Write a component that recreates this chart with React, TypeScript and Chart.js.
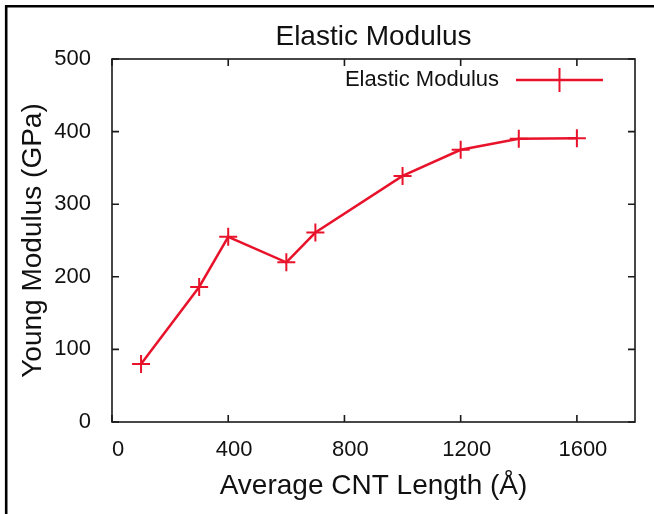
import React, { useEffect, useRef } from 'react';
import { Chart, registerables } from 'chart.js';

Chart.register(...registerables);

// ---- data ----
const LENGTHS = [100, 300, 400, 600, 700, 1000, 1200, 1400, 1600];
const MODULUS = [80, 186, 255, 220, 261, 339, 375, 390, 391];
const X_TICKS = [0, 400, 800, 1200, 1600];
const Y_TICKS = [0, 100, 200, 300, 400, 500];
const X_MIN = 0;
const X_MAX = 1800;
const Y_MIN = 0;
const Y_MAX = 500;
const TITLE = 'Elastic Modulus';
const SERIES_NAME = 'Elastic Modulus';
const X_LABEL = 'Average CNT Length (Å)';
const Y_LABEL = 'Young Modulus (GPa)';

const FAMILY = '"Liberation Sans", Arial, Helvetica, sans-serif';
const RED = '#e8132b';
const INK = '#111111';

const framePlugin = {
  id: 'gnuFrame',
  beforeDraw(chart: any) {
    const { ctx, width, height } = chart;
    ctx.save();
    ctx.fillStyle = '#ffffff';
    ctx.fillRect(0, 0, width, height);
    ctx.strokeStyle = '#000000';
    ctx.lineWidth = 2.6;
    ctx.beginPath();
    ctx.moveTo(6.2, height);
    ctx.lineTo(6.2, 6.2);
    ctx.lineTo(width, 6.2);
    ctx.stroke();
    ctx.restore();
  },
  beforeDatasetsDraw(chart: any) {
    const { ctx, chartArea: a, scales } = chart;
    const xs = scales.x;
    const ys = scales.y;
    const T = 7;
    ctx.save();
    ctx.strokeStyle = '#1a1a1a';
    ctx.lineWidth = 1.6;
    ctx.strokeRect(a.left, a.top, a.right - a.left, a.bottom - a.top);
    ctx.beginPath();
    X_TICKS.forEach((v) => {
      const px = xs.getPixelForValue(v);
      ctx.moveTo(px, a.bottom);
      ctx.lineTo(px, a.bottom - T);
      ctx.moveTo(px, a.top);
      ctx.lineTo(px, a.top + T);
    });
    Y_TICKS.forEach((v) => {
      const py = ys.getPixelForValue(v);
      ctx.moveTo(a.left, py);
      ctx.lineTo(a.left + T, py);
      ctx.moveTo(a.right, py);
      ctx.lineTo(a.right - T, py);
    });
    ctx.stroke();
    ctx.restore();
  },
  afterDraw(chart: any) {
    const { ctx, chartArea: a } = chart;
    ctx.save();
    // title
    ctx.fillStyle = INK;
    ctx.font = `28px ${FAMILY}`;
    ctx.textAlign = 'center';
    ctx.textBaseline = 'middle';
    ctx.fillText(TITLE, (a.left + a.right) / 2, a.top - 22);
    // legend
    const ly = a.top + 21;
    ctx.font = `22px ${FAMILY}`;
    ctx.textAlign = 'right';
    ctx.fillText(SERIES_NAME, a.right - 136, ly);
    ctx.strokeStyle = RED;
    ctx.lineWidth = 2.5;
    ctx.beginPath();
    ctx.moveTo(a.right - 119, ly);
    ctx.lineTo(a.right - 32, ly);
    ctx.stroke();
    const mx = a.right - 75.5;
    ctx.lineWidth = 2;
    ctx.beginPath();
    ctx.moveTo(mx, ly - 12);
    ctx.lineTo(mx, ly + 12);
    ctx.stroke();
    ctx.restore();
  },
};

export default function App() {
  const ref = useRef<HTMLCanvasElement | null>(null);

  useEffect(() => {
    const canvas = ref.current;
    if (!canvas) return;
    const tickFont = { family: FAMILY, size: 22 };
    const titleFont = { family: FAMILY, size: 28 };
    const chart = new Chart(canvas, {
      type: 'line',
      data: {
        datasets: [
          {
            label: SERIES_NAME,
            data: LENGTHS.map((x, i) => ({ x, y: MODULUS[i] })),
            borderColor: RED,
            backgroundColor: RED,
            borderWidth: 2.5,
            pointStyle: 'cross',
            pointRadius: 9,
            pointBorderWidth: 2,
            pointBorderColor: RED,
            pointHoverRadius: 9,
            tension: 0,
            fill: false,
          },
        ],
      },
      options: {
        responsive: false,
        animation: false,
        devicePixelRatio: 1,
        layout: { padding: { top: 59, right: 19, bottom: 0, left: 0 } },
        plugins: {
          legend: { display: false },
          title: { display: false },
          tooltip: { enabled: false },
        },
        scales: {
          x: {
            type: 'linear',
            min: X_MIN,
            max: X_MAX,
            grid: { display: false },
            border: { display: false },
            afterBuildTicks: (s: any) => {
              s.ticks = X_TICKS.map((value) => ({ value }));
            },
            afterFit: (s: any) => {
              s.height = 92;
            },
            ticks: {
              font: tickFont,
              color: INK,
              padding: 7,
              labelOffset: 6,
              maxRotation: 0,
              autoSkip: false,
              callback: (v: any) => String(v),
            },
            title: {
              display: true,
              text: X_LABEL,
              font: titleFont,
              color: INK,
              padding: { top: 0, bottom: 11 },
            },
          },
          y: {
            type: 'linear',
            min: Y_MIN,
            max: Y_MAX,
            grid: { display: false },
            border: { display: false },
            afterBuildTicks: (s: any) => {
              s.ticks = Y_TICKS.map((value) => ({ value }));
            },
            afterFit: (s: any) => {
              s.width = 112;
            },
            ticks: {
              font: tickFont,
              color: INK,
              padding: 13,
              autoSkip: false,
              callback: (v: any) => String(v),
            },
            title: {
              display: true,
              text: Y_LABEL,
              font: titleFont,
              color: INK,
              padding: { top: 16, bottom: 0 },
            },
          },
        },
      },
      plugins: [framePlugin],
    } as any);
    return () => chart.destroy();
  }, []);

  return (
    <div style={{ position: 'fixed', left: 0, top: 0, width: 654, height: 514, background: '#fff' }}>
      <canvas ref={ref} width={654} height={514} style={{ display: 'block', width: 654, height: 514 }} />
    </div>
  );
}
